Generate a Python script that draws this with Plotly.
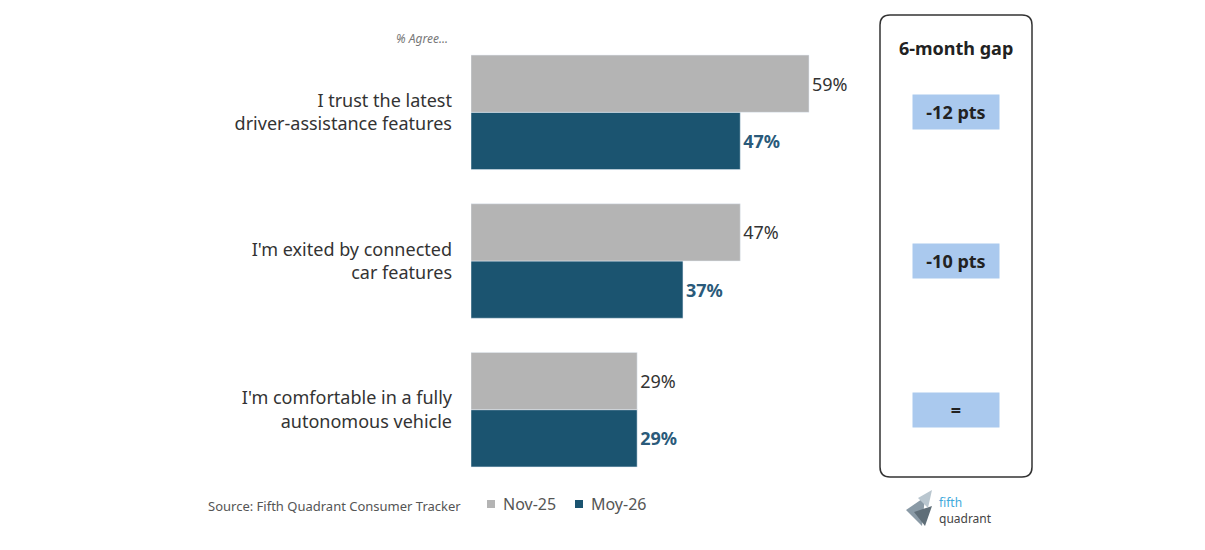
import plotly.graph_objects as go

categories = ["I'm comfortable in a fully<br>autonomous vehicle",
              "I'm exited by connected<br>car features",
              "I trust the latest<br>driver-assistance features"]
nov25 = [29, 47, 59]
may26 = [29, 37, 47]
gaps = ["=", "-10 pts", "-12 pts"]

W, H = 1189, 534
OFF = 8
def px(x): return (x - OFF) / W
def py(y): return 1 - (y - OFF) / H

fig = go.Figure()
fig.add_trace(go.Bar(y=categories, x=may26, orientation="h", name="Moy-26",
                     marker_color="#1b5470", text=[f"<b>{v}%</b>" for v in may26],
                     textposition="outside", textfont=dict(size=18, color="#2a5a7a")))
fig.add_trace(go.Bar(y=categories, x=nov25, orientation="h", name="Nov-25",
                     marker_color="#b4b4b4", text=[f"{v}%" for v in nov25],
                     textposition="outside", textfont=dict(size=18, color="#333")))

fig.update_layout(
    width=W, height=H, barmode="group", bargap=0.23, bargroupgap=0,
    plot_bgcolor="white", paper_bgcolor="white",
    margin=dict(l=0, r=0, t=0, b=0),
    font=dict(family="Noto Sans", color="#333"),
    xaxis=dict(domain=[px(471), px(872)], range=[0, 70], visible=False),
    yaxis=dict(domain=[py(484), py(38)], showline=False, ticks="", ticksuffix="",
               ticklabelstandoff=18, tickfont=dict(size=18, color="#333")),
    showlegend=False,
)
fig.update_traces(cliponaxis=False)

def ann(x, y, text, size, color, xanchor="center", yanchor="middle", **kw):
    fig.add_annotation(x=px(x), y=py(y), xref="paper", yref="paper", text=text,
                       showarrow=False, xanchor=xanchor, yanchor=yanchor,
                       font=dict(size=size, color=color), **kw)

ann(450, 38, "<i>% Agree...</i>", 12, "#777", xanchor="right")
ann(206, 506, "Source: Fifth Quadrant Consumer Tracker", 13, "#555", xanchor="left")
# legend
fig.add_shape(type="rect", xref="paper", yref="paper", x0=px(487), x1=px(495), y0=py(508), y1=py(500),
              fillcolor="#b4b4b4", line_width=0)
ann(501, 504, "Nov-25", 16, "#555", xanchor="left")
fig.add_shape(type="rect", xref="paper", yref="paper", x0=px(575), x1=px(583), y0=py(508), y1=py(500),
              fillcolor="#1b5470", line_width=0)
ann(589, 504, "Moy-26", 16, "#555", xanchor="left")
# logo
def tri(pts, color):
    p = "M " + " L ".join(f"{px(a)} {py(b)}" for a, b in pts) + " Z"
    fig.add_shape(type="path", xref="paper", yref="paper", path=p, fillcolor=color, line_width=0)
tri([(906, 510), (925, 497), (922, 526)], "#8a9aa6")
tri([(914, 512), (932, 506), (925, 526)], "#5f6e78")
tri([(918, 498), (932, 490), (928, 508)], "#b9c6cf")
ann(937, 510, "<span style='color:#3fa9dc'>fifth</span><br>quadrant", 12, "#444",
    xanchor="left", align="left")

# gap panel
x0, x1, y0, y1, r = 880, 1032, 15, 477, 10
path = (f"M {px(x0+r)} {py(y0)} L {px(x1-r)} {py(y0)} Q {px(x1)} {py(y0)} {px(x1)} {py(y0+r)} "
        f"L {px(x1)} {py(y1-r)} Q {px(x1)} {py(y1)} {px(x1-r)} {py(y1)} "
        f"L {px(x0+r)} {py(y1)} Q {px(x0)} {py(y1)} {px(x0)} {py(y1-r)} "
        f"L {px(x0)} {py(y0+r)} Q {px(x0)} {py(y0)} {px(x0+r)} {py(y0)} Z")
fig.add_shape(type="path", xref="paper", yref="paper", path=path,
              line=dict(color="#333", width=1.5), fillcolor="rgba(0,0,0,0)")
ann(956, 48, "<b>6-month gap</b>", 18, "#222")
for cat, g in zip(categories, gaps):
    fig.add_annotation(x=px(956), y=cat, xref="paper", yref="y", text=f"<b>{g}</b>",
                       showarrow=False, xanchor="center", yanchor="middle",
                       font=dict(size=18, color="#222"),
                       bgcolor="#aac9ee", width=84, height=32)

fig.write_html("out.html")
